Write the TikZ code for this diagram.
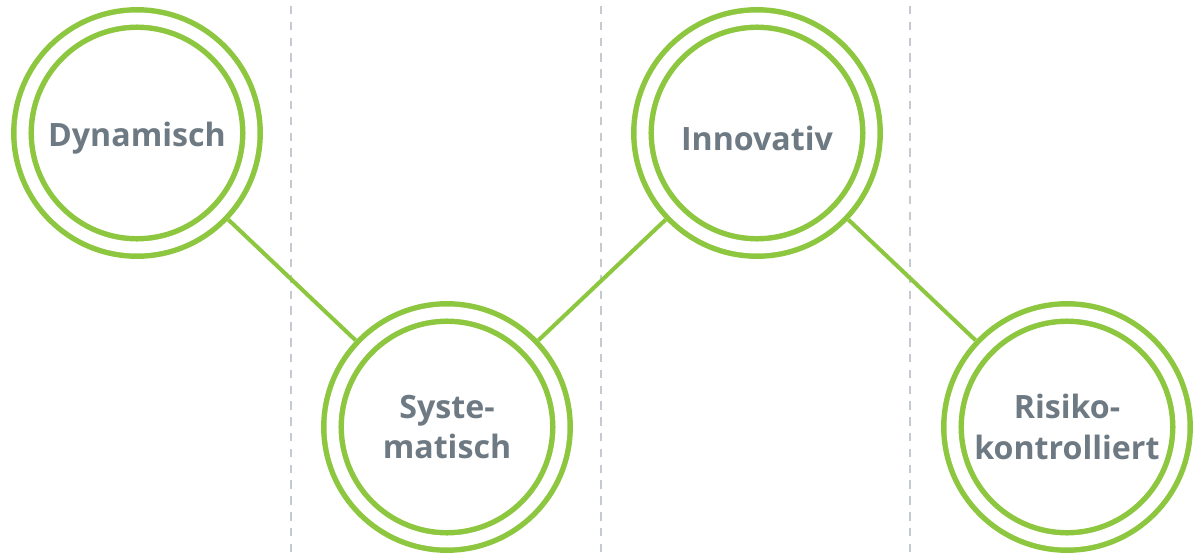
\documentclass[tikz,border=0pt]{standalone}
\usepackage{fontspec}
\setmainfont{Open Sans}
\usepackage{tikz}
\usetikzlibrary{positioning}
\definecolor{ring_green}{HTML}{8DC63F}
\definecolor{label_gray}{HTML}{6E7A83}
\definecolor{sep_gray}{HTML}{C4CAD0}
\tikzset{
    ring/.style={circle, draw=ring_green, line width=3.1pt, double=white, double distance=6.8pt, fill=white, minimum size=4.58cm, outer sep=0.23cm, align=center, text=label_gray, font=\fontsize{18.3}{23}\selectfont\bfseries},
    link/.style={draw=ring_green, line width=2.3pt},
    separator/.style={draw=sep_gray, line width=0.85pt, dash pattern=on 4.8pt off 4.2pt, dash phase=-3.4pt}
}

\begin{document}
\begin{tikzpicture}
        \useasboundingbox (0, 0) rectangle (24.06, -11.08);

        % Column separators
        \coordinate (Sep1_top) at (5.82, 0);
        \coordinate (Sep1_bottom) at (5.82, -11.08);
        \coordinate (Sep2_top) at (12.02, 0);
        \coordinate (Sep2_bottom) at (12.02, -11.08);
        \coordinate (Sep3_top) at (18.2, 0);
        \coordinate (Sep3_bottom) at (18.2, -11.08);
        \draw[separator] (Sep1_top) -- (Sep1_bottom);
        \draw[separator] (Sep2_top) -- (Sep2_bottom);
        \draw[separator] (Sep3_top) -- (Sep3_bottom);

        % Rings
        \node (Dyn) [ring, text height=20pt] at (2.74, -2.66) {Dynamisch};
        \node (Sys) [ring] at (8.94, -8.54) {Syste-\\matisch};
        \node (Inno) [ring, text height=20pt] at (15.14, -2.66) {Innovativ};
        \node (Risk) [ring] at (21.34, -8.54) {Risiko-\\kontrolliert};

        % Connect rings
        \draw[link] (Dyn) -- (Sys);
        \draw[link] (Sys) -- (Inno);
        \draw[link] (Inno) -- (Risk);

    \end{tikzpicture}
\end{document}
